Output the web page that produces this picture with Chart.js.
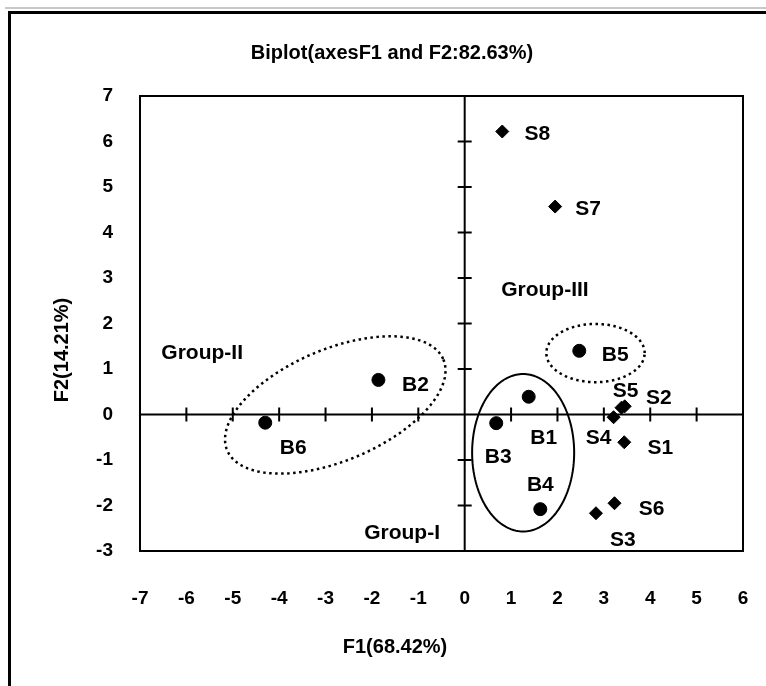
<!DOCTYPE html>
<html>
<head>
<meta charset="utf-8">
<script src="https://cdn.jsdelivr.net/npm/chart.js@4.4.1/dist/chart.umd.min.js"></script>
<style>
  html, body { margin: 0; padding: 0; background: #fff; overflow: hidden; }
  #wrap { width: 766px; height: 686px; }
</style>
</head>
<body>
<div id="wrap"><canvas id="biplot" width="766" height="686"></canvas></div>
<script>
// breeds (circles)
const bNames = ['B1', 'B2', 'B3', 'B4', 'B5', 'B6'];
const bF1 = [1.38, -1.86, 0.68, 1.63, 2.47, -4.30];
const bF2 = [0.39, 0.76, -0.19, -2.08, 1.40, -0.18];

// samples (diamonds)
const sNames = ['S1', 'S2', 'S3', 'S4', 'S5', 'S6', 'S7', 'S8'];
const sF1 = [3.44, 3.45, 2.83, 3.21, 3.38, 3.23, 1.95, 0.81];
const sF2 = [-0.61, 0.18, -2.17, -0.06, 0.15, -1.95, 4.57, 6.22];

// axis ranges / tick labels
const xTickValues = [-7, -6, -5, -4, -3, -2, -1, 0, 1, 2, 3, 4, 5, 6];
const yTickValues = [-3, -2, -1, 0, 1, 2, 3, 4, 5, 6, 7];

// group labels and their enclosing ellipses (centre, axis vectors in data units)
const groupNames = ['Group-I', 'Group-II', 'Group-III'];
const groupF1 = [-1.35, -5.66, 1.73];
const groupF2 = [-2.60, 1.35, 2.74];
const ellipseCenters = [[1.26, -0.84], [-2.79, 0.21], [2.82, 1.35]];
const ellipseAxisA = [[1.10, 0], [2.33, 1.00], [1.06, 0]];
const ellipseAxisB = [[0, 1.73], [0.47, -1.13], [0, 0.64]];
const ellipseDotted = [false, true, true];

// label offsets in pixels (text centre relative to the mark)
const bLabelDx = [15, 37, 2, 0, 36, 28];
const bLabelDy = [41, 5, 34, -24, 4, 26];
const sLabelDx = [36, 34, 27, -15, 4, 37, 33, 35];
const sLabelDy = [6, -8, 27, 21, -16, 6, 3, 3];

const FONT = '"Liberation Sans", Arial, sans-serif';

const biplotDecor = {
    id: 'biplotDecor',
    beforeDraw(chart) {
        const ctx = chart.ctx;
        ctx.save();
        ctx.fillStyle = '#fff';
        ctx.fillRect(0, 0, chart.width, chart.height);
        ctx.strokeStyle = '#c8c8c8';
        ctx.lineWidth = 2;
        ctx.beginPath();
        ctx.moveTo(5, 8);
        ctx.lineTo(chart.width, 8);
        ctx.stroke();
        ctx.strokeStyle = '#000';
        ctx.lineWidth = 3;
        ctx.strokeRect(9.5, 12.5, 800, 720);
        ctx.restore();
    },
    beforeDatasetsDraw(chart) {
        const ctx = chart.ctx;
        const a = chart.chartArea;
        const x = chart.scales.x, y = chart.scales.y;
        ctx.save();
        ctx.strokeStyle = '#000';
        ctx.lineWidth = 2;
        ctx.strokeRect(a.left, a.top, a.right - a.left, a.bottom - a.top);

        // axes through the origin with crossing tick marks
        const x0 = x.getPixelForValue(0), y0 = y.getPixelForValue(0);
        ctx.beginPath();
        ctx.moveTo(a.left, y0); ctx.lineTo(a.right, y0);
        ctx.moveTo(x0, a.top); ctx.lineTo(x0, a.bottom);
        x.ticks.forEach(t => {
            if (t.value === 0 || t.value === x.min || t.value === x.max) return;
            const px = x.getPixelForValue(t.value);
            ctx.moveTo(px, y0 - 7); ctx.lineTo(px, y0 + 7);
        });
        y.ticks.forEach(t => {
            if (t.value === 0 || t.value === y.min || t.value === y.max) return;
            const py = y.getPixelForValue(t.value);
            ctx.moveTo(x0 - 7, py); ctx.lineTo(x0 + 7, py);
        });
        ctx.stroke();

        // group ellipses
        ellipseCenters.forEach((c, i) => {
            const A = ellipseAxisA[i], B = ellipseAxisB[i];
            ctx.beginPath();
            for (let k = 0; k <= 180; k++) {
                const t = k / 180 * Math.PI * 2;
                const px = x.getPixelForValue(c[0] + A[0] * Math.cos(t) + B[0] * Math.sin(t));
                const py = y.getPixelForValue(c[1] + A[1] * Math.cos(t) + B[1] * Math.sin(t));
                if (k === 0) ctx.moveTo(px, py); else ctx.lineTo(px, py);
            }
            ctx.lineWidth = ellipseDotted[i] ? 2.5 : 2;
            ctx.setLineDash(ellipseDotted[i] ? [2.5, 3.5] : []);
            ctx.stroke();
        });
        ctx.restore();
    },
    afterDatasetsDraw(chart) {
        const ctx = chart.ctx;
        const x = chart.scales.x, y = chart.scales.y;
        ctx.save();
        ctx.fillStyle = '#000';
        ctx.textAlign = 'center';
        ctx.textBaseline = 'middle';
        ctx.font = 'bold 21px ' + FONT;

        bNames.forEach((n, i) => {
            ctx.fillText(n, x.getPixelForValue(bF1[i]) + bLabelDx[i], y.getPixelForValue(bF2[i]) + bLabelDy[i]);
        });
        sNames.forEach((n, i) => {
            ctx.fillText(n, x.getPixelForValue(sF1[i]) + sLabelDx[i], y.getPixelForValue(sF2[i]) + sLabelDy[i]);
        });
        groupNames.forEach((n, i) => {
            ctx.fillText(n, x.getPixelForValue(groupF1[i]), y.getPixelForValue(groupF2[i]));
        });

        // titles
        ctx.font = 'bold 20px ' + FONT;
        ctx.fillText('Biplot(axesF1 and F2:82.63%)', 392, 53);
        ctx.fillText('F1(68.42%)', 395, 647);
        ctx.translate(62, 350);
        ctx.rotate(-Math.PI / 2);
        ctx.fillText('F2(14.21%)', 0, 0);
        ctx.restore();
    }
};

const ctx = document.getElementById('biplot').getContext('2d');
const chart = new Chart(ctx, {
    type: 'scatter',
    data: {
        datasets: [{
            label: 'Breeds',
            data: bF1.map((v, i) => ({ x: v, y: bF2[i] })),
            pointStyle: 'circle',
            pointRadius: 6.5,
            backgroundColor: '#000',
            borderColor: '#000'
        }, {
            label: 'Samples',
            data: sF1.map((v, i) => ({ x: v, y: sF2[i] })),
            pointStyle: 'rectRot',
            pointRadius: 6.5,
            backgroundColor: '#000',
            borderColor: '#000'
        }]
    },
    options: {
        responsive: false,
        animation: false,
        layout: { padding: { top: 96, right: 23, left: 0, bottom: 0 } },
        plugins: { legend: { display: false }, tooltip: { enabled: false } },
        scales: {
            x: {
                type: 'linear',
                min: xTickValues[0],
                max: xTickValues[xTickValues.length - 1],
                afterBuildTicks: s => { s.ticks = xTickValues.map(v => ({ value: v })); },
                afterFit: s => { s.height = 135; s.paddingLeft = 0; s.paddingRight = 0; },
                grid: { display: false },
                border: { display: false },
                ticks: { color: '#000', padding: 28, font: { family: FONT, size: 19, weight: 'bold' } }
            },
            y: {
                type: 'linear',
                min: yTickValues[0],
                max: yTickValues[yTickValues.length - 1],
                afterBuildTicks: s => { s.ticks = yTickValues.map(v => ({ value: v })); },
                afterFit: s => { s.width = 140; },
                grid: { display: false },
                border: { display: false },
                ticks: { color: '#000', padding: 19, font: { family: FONT, size: 19, weight: 'bold' } }
            }
        }
    },
    plugins: [biplotDecor]
});
</script>
</body>
</html>
